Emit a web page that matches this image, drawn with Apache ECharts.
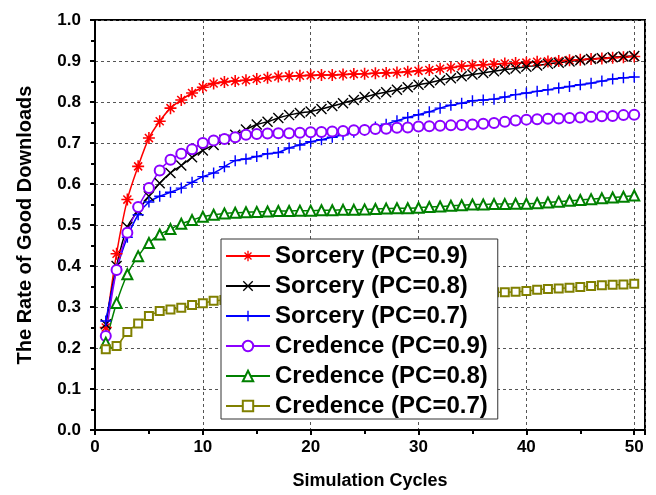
<!DOCTYPE html>
<html>
<head>
<meta charset="utf-8">
<script src="https://cdn.jsdelivr.net/npm/echarts@6/dist/echarts.min.js"></script>
<style>
  html, body { margin: 0; padding: 0; background: #fff; }
  #chart { width: 656px; height: 495px; }
</style>
</head>
<body>
<div id="chart"></div>
<script>
const cycles = [1, 2, 3, 4, 5, 6, 7, 8, 9, 10, 11, 12, 13, 14, 15, 16, 17, 18, 19, 20,
  21, 22, 23, 24, 25, 26, 27, 28, 29, 30, 31, 32, 33, 34, 35, 36, 37, 38, 39, 40,
  41, 42, 43, 44, 45, 46, 47, 48, 49, 50]

const seriesNames = ['Sorcery (PC=0.9)', 'Sorcery (PC=0.8)', 'Sorcery (PC=0.7)',
  'Credence (PC=0.9)', 'Credence (PC=0.8)', 'Credence (PC=0.7)']

const sorcery09 = [0.25, 0.43, 0.562, 0.643, 0.712, 0.753, 0.785, 0.805, 0.822, 0.836,
  0.845, 0.849, 0.851, 0.853, 0.856, 0.859, 0.862, 0.863, 0.864, 0.865,
  0.866, 0.866, 0.867, 0.868, 0.869, 0.870, 0.871, 0.872, 0.874, 0.876,
  0.878, 0.881, 0.884, 0.887, 0.889, 0.891, 0.892, 0.894, 0.895, 0.896,
  0.898, 0.899, 0.900, 0.902, 0.903, 0.905, 0.906, 0.908, 0.909, 0.911]
const sorcery08 = [0.258, 0.40, 0.495, 0.535, 0.57, 0.602, 0.627, 0.645, 0.665, 0.682,
  0.695, 0.708, 0.72, 0.733, 0.745, 0.752, 0.761, 0.768, 0.773, 0.777,
  0.783, 0.79, 0.797, 0.805, 0.812, 0.819, 0.824, 0.83, 0.836, 0.842,
  0.847, 0.853, 0.858, 0.863, 0.867, 0.871, 0.875, 0.879, 0.882, 0.886,
  0.889, 0.893, 0.896, 0.899, 0.902, 0.905, 0.907, 0.909, 0.911, 0.912]
const sorcery07 = [0.266, 0.39, 0.47, 0.525, 0.556, 0.570, 0.58, 0.59, 0.604, 0.618,
  0.627, 0.642, 0.657, 0.661, 0.667, 0.674, 0.677, 0.688, 0.695, 0.703,
  0.708, 0.714, 0.72, 0.726, 0.732, 0.739, 0.746, 0.754, 0.762, 0.769,
  0.776, 0.785, 0.792, 0.797, 0.803, 0.805, 0.807, 0.812, 0.818, 0.822,
  0.826, 0.830, 0.834, 0.838, 0.842, 0.846, 0.851, 0.856, 0.859, 0.861]
const credence09 = [0.229, 0.39, 0.481, 0.544, 0.59, 0.633, 0.659, 0.674, 0.685, 0.70,
  0.706, 0.71, 0.714, 0.72, 0.722, 0.723, 0.724, 0.724, 0.725, 0.726,
  0.727, 0.728, 0.729, 0.731, 0.732, 0.734, 0.735, 0.737, 0.738, 0.740,
  0.741, 0.742, 0.743, 0.744, 0.745, 0.747, 0.749, 0.752, 0.755, 0.757,
  0.758, 0.759, 0.760, 0.761, 0.762, 0.764, 0.765, 0.766, 0.768, 0.769]
const credence08 = [0.213, 0.31, 0.38, 0.424, 0.456, 0.477, 0.49, 0.503, 0.512, 0.52,
  0.525, 0.528, 0.53, 0.531, 0.532, 0.533, 0.534, 0.534, 0.535, 0.535,
  0.536, 0.536, 0.537, 0.537, 0.538, 0.539, 0.540, 0.541, 0.541, 0.542,
  0.544, 0.545, 0.547, 0.548, 0.550, 0.550, 0.551, 0.551, 0.552, 0.552,
  0.553, 0.555, 0.557, 0.559, 0.561, 0.563, 0.565, 0.567, 0.569, 0.572]
const credence07 = [0.197, 0.205, 0.239, 0.26, 0.278, 0.29, 0.294, 0.298, 0.305, 0.309,
  0.315, 0.317, 0.318, 0.319, 0.32, 0.321, 0.322, 0.322, 0.323, 0.324,
  0.325, 0.325, 0.326, 0.327, 0.328, 0.328, 0.329, 0.330, 0.331, 0.331,
  0.332, 0.333, 0.334, 0.334, 0.335, 0.335, 0.336, 0.336, 0.337, 0.339,
  0.342, 0.344, 0.345, 0.347, 0.349, 0.351, 0.353, 0.354, 0.355, 0.357]

const yTicks = [0, 0.1, 0.2, 0.3, 0.4, 0.5, 0.6, 0.7, 0.8, 0.9, 1.0]

;(function () {
  // 标记形状
  const asterisk = 'path://M4.35,0H5.65V4.35H10V5.65H5.65V10H4.35V5.65H0V4.35H4.35Z' +
    'M1.2,2.1L2.1,1.2L8.8,7.9L7.9,8.8Z M7.9,1.2L8.8,2.1L2.1,8.8L1.2,7.9Z'
  const cross = 'path://M0,0.9L0.9,0L10,9.1L9.1,10Z M9.1,0L10,0.9L0.9,10L0,9.1Z'
  const plus = 'path://M4.35,0H5.65V4.35H10V5.65H5.65V10H4.35V5.65H0V4.35H4.35Z'

  const allData = [sorcery09, sorcery08, sorcery07, credence09, credence08, credence07]
  const colors = ['#ff0000', '#000000', '#0000ff', '#8b00ff', '#008000', '#808000']
  const symbols = [asterisk, cross, plus, 'emptyCircle', 'emptyTriangle', 'emptyRect']
  const sizes = [12, 11, 11, 10, 10, 8]

  const font = 'Liberation Sans, Arial, sans-serif'
  let myChart = echarts.init(document.getElementById('chart'))
  let options = {
    animation: false,
    backgroundColor: '#fff',
    color: colors,
    grid: {
      left: 95,
      right: 11,
      top: 20,
      bottom: 64,
      show: true,
      borderColor: '#000',
      borderWidth: 2,
    },
    legend: {
      z: 20,
      orient: 'vertical',
      left: 221,
      top: 239,
      padding: [5, 10, 1, 4],
      itemWidth: 44,
      itemHeight: 13,
      itemGap: 6,
      backgroundColor: '#fff',
      borderColor: '#333',
      borderWidth: 1,
      data: seriesNames,
      textStyle: {
        fontFamily: font,
        fontWeight: 'bold',
        fontSize: 24,
        lineHeight: 24,
        color: '#000',
      },
    },
    xAxis: {
      type: 'value',
      min: 0,
      max: 51,
      interval: 10,
      name: 'Simulation Cycles',
      nameLocation: 'middle',
      nameGap: 42,
      nameTextStyle: { fontFamily: font, fontWeight: 'bold', fontSize: 18, color: '#000' },
      axisLine: { lineStyle: { color: '#000', width: 2 } },
      axisTick: { inside: false, length: 5, lineStyle: { color: '#000', width: 2 } },
      minorTick: { show: true, splitNumber: 2, length: 4, lineStyle: { color: '#000', width: 2 } },
      axisLabel: {
        showMaxLabel: false,
        margin: 9,
        fontFamily: font,
        fontWeight: 'bold',
        fontSize: 17,
        color: '#000',
      },
      splitLine: { show: true, lineStyle: { color: '#555', width: 1, type: [3, 3] } },
    },
    yAxis: {
      type: 'value',
      min: yTicks[0],
      max: yTicks[yTicks.length - 1],
      interval: 0.1,
      name: 'The Rate of Good Downloads',
      nameLocation: 'middle',
      nameGap: 60,
      nameTextStyle: { fontFamily: font, fontWeight: 'bold', fontSize: 20, color: '#000' },
      axisLine: { show: true, lineStyle: { color: '#000', width: 2 } },
      axisTick: { show: true, inside: false, length: 5, lineStyle: { color: '#000', width: 2 } },
      minorTick: { show: true, splitNumber: 2, length: 4, lineStyle: { color: '#000', width: 2 } },
      axisLabel: {
        margin: 14,
        fontFamily: font,
        fontWeight: 'bold',
        fontSize: 17,
        color: '#000',
        formatter: (v) => v.toFixed(1),
      },
      splitLine: { show: true, lineStyle: { color: '#555', width: 1, type: [3, 3] } },
    },
    series: seriesNames.map((name, i) => ({
      name: name,
      type: 'line',
      smooth: 0.3,
      symbol: symbols[i],
      symbolSize: sizes[i],
      lineStyle: { width: 1.5, color: colors[i] },
      itemStyle: {
        color: colors[i],
        borderColor: colors[i],
        borderWidth: i < 3 ? 0 : 1.2,
      },
      data: cycles.map((c, k) => [c, allData[i][k]]),
    })),
  }
  myChart.setOption(options)
  window.addEventListener('resize', () => {
    myChart.resize()
  })
})()
</script>
</body>
</html>
